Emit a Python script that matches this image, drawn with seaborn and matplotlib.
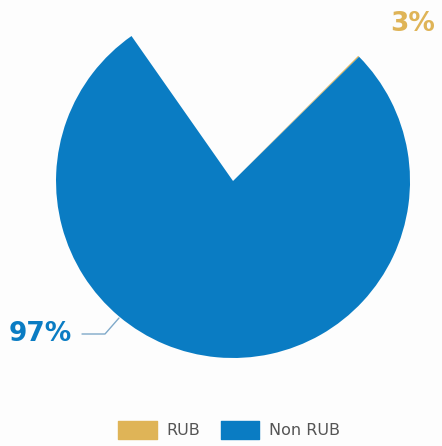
import matplotlib.pyplot as plt
import seaborn as sns
from matplotlib.patches import Patch

categories = ['RUB', 'Non RUB']
shares = [3, 97]
labels = ['3%', '97%']
colors = ['#dfb457', '#0a7cc3']

sns.set_theme(style='white')
plt.rcParams['font.family'] = ['DejaVu Sans']

fig = plt.figure(figsize=(4.42, 4.46), dpi=100)
fig.patch.set_facecolor('#fdfdfd')
ax = fig.add_axes([0.1267, 0.1973, 0.801, 0.7937])
ax.set_facecolor('none')

wedges, _ = ax.pie(shares, colors=colors, startangle=90, counterclock=False,
                   radius=1, wedgeprops=dict(linewidth=0))

# the reference is caught mid-animation: the slices have not swept fully yet
wedges[0].set_theta1(44.6)
wedges[0].set_theta2(45.0)
wedges[1].set_theta1(125.0)
wedges[1].set_theta2(404.6)

ax.set_xlim(-1, 1)
ax.set_ylim(-1, 1)
ax.set_aspect('equal')
ax.axis('off')

# data labels
fig.text(413 / 442, 1 - 24 / 446, labels[0], color=colors[0], fontsize=19,
         fontweight='bold', ha='center', va='center')
fig.text(40 / 442, 1 - 334 / 446, labels[1], color=colors[1], fontsize=19,
         fontweight='bold', ha='center', va='center')
fig.add_artist(plt.Line2D([82 / 442, 105 / 442, 119 / 442],
                          [1 - 334 / 446, 1 - 334 / 446, 1 - 318 / 446],
                          color='#7fa9c9', linewidth=1, transform=fig.transFigure))

handles = [Patch(facecolor=c, edgecolor=c, label=l) for c, l in zip(colors, categories)]
leg = fig.legend(handles=handles, loc='center', bbox_to_anchor=(229 / 442, 1 - 430 / 446),
                 ncol=2, frameon=False, fontsize=11.5, handlelength=2.4, handleheight=1.35,
                 handletextpad=0.6, columnspacing=1.3, labelcolor='#555555')
for p in leg.get_patches():
    p.set_joinstyle('round')

fig.savefig('out.png', dpi=100, facecolor=fig.get_facecolor())
